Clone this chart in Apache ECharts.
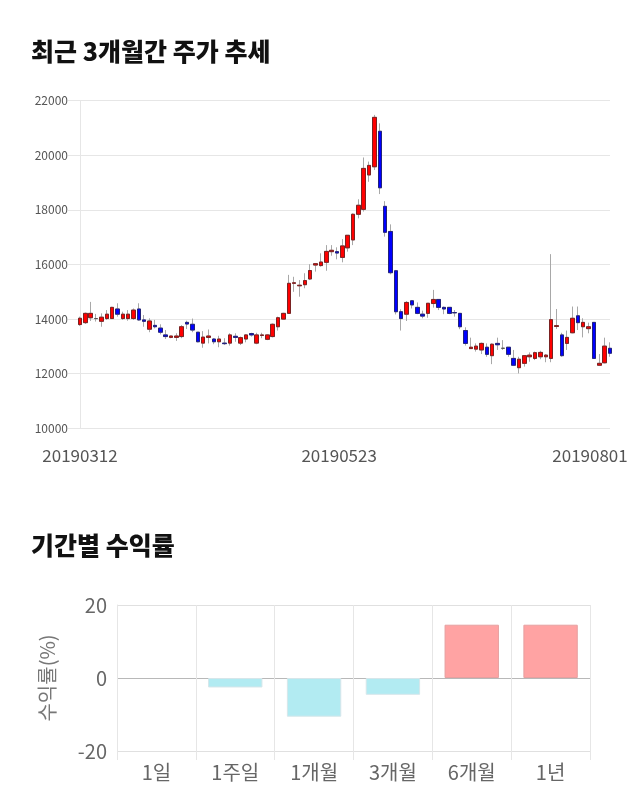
<!DOCTYPE html>
<html><head><meta charset="utf-8">
<script src="https://cdn.jsdelivr.net/npm/echarts@6/dist/echarts.min.js"></script>
<style>html,body{margin:0;padding:0;background:#fff;} #c{width:640px;height:810px;}</style>
</head><body><div id="c"></div>
<script>
const dates = [
'20190312','20190313','20190314','20190315','20190318','20190319','20190320','20190321','20190322','20190325','20190326','20190327','20190328','20190329',
'20190401','20190402','20190403','20190404','20190405','20190408','20190409','20190410','20190411','20190412','20190415','20190416','20190417','20190418','20190419','20190422','20190423','20190424','20190425','20190426','20190429','20190430',
'20190502','20190503','20190507','20190508','20190509','20190510','20190513','20190514','20190515','20190516','20190517','20190520','20190521','20190522','20190523','20190524','20190527','20190528','20190529','20190530','20190531',
'20190603','20190604','20190605','20190607','20190610','20190611','20190612','20190613','20190614','20190617','20190618','20190619','20190620','20190621','20190624','20190625','20190626','20190627','20190628',
'20190701','20190702','20190703','20190704','20190705','20190708','20190709','20190710','20190711','20190712','20190715','20190716','20190717','20190718','20190719','20190722','20190723','20190724','20190725','20190726','20190729','20190730','20190731',
'20190801'];
const openP = [13800,13870,14050,14020,13920,14020,14020,14370,14020,14020,14020,14370,13970,13630,13770,13670,13420,13330,13330,13360,13880,13810,13520,13120,13330,13270,13170,13120,13120,13370,13120,13270,13470,13120,13400,13260,13360,13720,14000,14210,15310,15220,15260,15470,15980,15960,16080,16470,16470,16260,16610,16900,17840,18020,19280,19580,20880,18130,17210,15770,14270,14180,14670,14430,14180,14210,14570,14720,14430,14430,14240,14210,13580,12920,12900,12870,12970,12660,13110,12930,12970,12560,12220,12380,12620,12560,12620,12620,12560,13730,13420,13110,13500,14120,13720,13650,13880,12310,12400,12930];
const closeP = [14030,14210,14210,14020,14070,14180,14430,14180,14180,14180,14330,13970,13920,13930,13720,13520,13360,13380,13380,13720,13820,13600,13170,13340,13380,13170,13270,13100,13420,13330,13320,13420,13420,13420,13420,13420,13810,14050,14210,15310,15330,15240,15410,15780,16030,16090,16480,16520,16420,16680,17070,17840,18170,19520,19630,21390,18810,17180,15700,14270,14020,14610,14520,14210,14110,14580,14720,14430,14370,14210,14230,13720,13110,12970,13010,13110,12710,13080,13060,12930,12710,12310,12530,12660,12680,12770,12780,12680,13980,13760,12660,13330,14030,13870,13880,13720,12560,12380,13010,12750];
const lowP = [13750,13820,13930,13910,13720,13970,14020,14090,13970,13940,13970,13940,13720,13520,13660,13440,13270,13300,13200,13300,13640,13520,13150,12950,13110,13080,12970,13050,13030,13170,13050,13150,13360,13080,13300,13230,13330,13580,13990,14210,15000,14820,15130,15430,15740,15920,15770,16320,16190,16080,16470,16710,17690,17940,19030,19460,18580,17020,15640,14170,13580,13930,14390,14180,14030,14050,14420,14330,14180,14180,14090,13630,13030,12920,12810,12720,12620,12350,12870,12870,12620,12280,12010,12260,12440,12500,12530,12420,12420,13640,12620,12870,13480,13600,13330,13480,12560,12280,12380,12620];
const highP = [14090,14240,14630,14190,14210,14330,14450,14580,14270,14330,14390,14580,14150,14030,13970,13810,13600,13390,13480,13780,13940,14020,13520,13560,13620,13300,13390,13300,13480,13480,13360,13450,13500,13500,13500,13450,13840,14090,14230,15620,15550,15430,15680,16010,16040,16410,16710,16710,16630,16930,17070,17870,18390,19920,19770,21480,21170,18320,17470,15800,14360,14660,14700,14610,14310,14580,15070,14720,14460,14430,14330,14210,13700,13320,13110,13140,13110,13110,13320,13230,12970,12870,12620,12680,12780,12810,12840,12720,16380,14370,13500,13580,14460,14460,14030,13870,13880,12720,13320,13150];
const shownDates = ['20190312','20190523','20190801'];
const priceMin = 10000, priceMax = 22000, priceStep = 2000;

const periods = ['1일','1주일','1개월','3개월','6개월','1년'];
const returns = [0,-2.6,-10.6,-4.6,14.6,14.6];
const retMin = -20, retMax = 20, retStep = 20;

const FONT = "'Noto Sans CJK KR', 'Noto Sans', sans-serif";
const ohlc = dates.map((d,i)=>[openP[i], closeP[i], lowP[i], highP[i]]);
const bodies = dates.map((d,i)=>[openP[i], closeP[i], Math.min(openP[i],closeP[i]), Math.max(openP[i],closeP[i])]);

const chart = echarts.init(document.getElementById('c'), null, {renderer:'canvas'});
chart.setOption({
  animation: false,
  backgroundColor: '#fff',
  textStyle: {fontFamily: FONT},
  title: [
    {text:'최근 3개월간 주가 추세', left: 26, top: 34, textStyle:{fontSize:25, fontWeight:900, color:'#111', fontFamily: FONT}},
    {text:'기간별 수익률', left: 26, top: 528, textStyle:{fontSize:25, fontWeight:900, color:'#111', fontFamily: FONT}}
  ],
  grid: [
    {left:80, right:30, top:100.7, height:327.6},
    {left:117, right:50, top:605, height:146}
  ],
  xAxis: [
    {type:'category', gridIndex:0, data: dates, boundaryGap:false,
     axisLine:{show:false}, axisTick:{show:false}, splitLine:{show:false},
     axisLabel:{
       interval: (i, v) => shownDates.indexOf(v) >= 0,
       margin: 19, fontSize: 17, color:'#555', fontFamily: FONT,
       formatter: (v) => {
         const k = shownDates.indexOf(v);
         return k === 0 ? '{a|' + v + '}' : (k === 1 ? '{b|' + v + '}' : '{c|' + v + '}');
       },
       rich: {
         a: {fontSize:17, color:'#555', fontFamily: FONT},
         b: {fontSize:17, color:'#555', fontFamily: FONT, padding:[0,17,0,0]},
         c: {fontSize:17, color:'#555', fontFamily: FONT, padding:[0,40,0,0]}
       }
     }},
    {type:'category', gridIndex:1, data: periods,
     axisLine:{show:false, onZero:false},
     axisTick:{show:true, length:9, lineStyle:{color:'#e6e6e6'}},
     splitLine:{show:true, lineStyle:{color:'#e6e6e6'}},
     axisLabel:{fontSize:20, color:'#666', margin:11, fontFamily: FONT}}
  ],
  yAxis: [
    {type:'value', gridIndex:0, min: priceMin, max: priceMax, interval: priceStep,
     axisLine:{show:true, lineStyle:{color:'#e6e6e6'}},
     axisTick:{show:true, length:12, lineStyle:{color:'#e6e6e6'}},
     splitLine:{show:true, lineStyle:{color:'#e6e6e6'}},
     axisLabel:{fontSize:12, color:'#555', margin:12, fontFamily: FONT, formatter: v => String(v)}},
    {type:'value', gridIndex:1, min: retMin, max: retMax, interval: retStep,
     name:'수익률(%)', nameLocation:'middle', nameGap:60,
     nameTextStyle:{fontSize:20, color:'#777', fontFamily: FONT},
     axisLine:{show:true, lineStyle:{color:'#e6e6e6'}},
     axisTick:{show:false},
     splitLine:{show:true, lineStyle:{color:['#e0e0e0','#b8b8b8','#e0e0e0']}},
     axisLabel:{fontSize:20, color:'#666', margin:10, fontFamily: FONT}}
  ],
  series: [
    {type:'candlestick', xAxisIndex:0, yAxisIndex:0, data: ohlc, barWidth:4, clip:true,
     itemStyle:{color:'#ff0000', color0:'#0000ff', borderColor:'#a8a8a8', borderColor0:'#a8a8a8', borderColorDoji:'#a8a8a8', borderWidth:1}},
    {type:'candlestick', xAxisIndex:0, yAxisIndex:0, data: bodies, barWidth:4, clip:true,
     itemStyle:{color:'#ff0000', color0:'#0000ff', borderColor:'#7a2222', borderColor0:'#22227a', borderColorDoji:'#555555', borderWidth:1}},
    {type:'bar', xAxisIndex:1, yAxisIndex:1, barWidth:'69%',
     data: returns.map(v => ({value:v, itemStyle:{color: v >= 0 ? '#ffa3a3' : '#b2ebf2', borderColor: v >= 0 ? '#e6a0a0' : '#d6e6ea', borderWidth: v === 0 ? 0 : 1}}))}
  ]
});
</script>
</body></html>
